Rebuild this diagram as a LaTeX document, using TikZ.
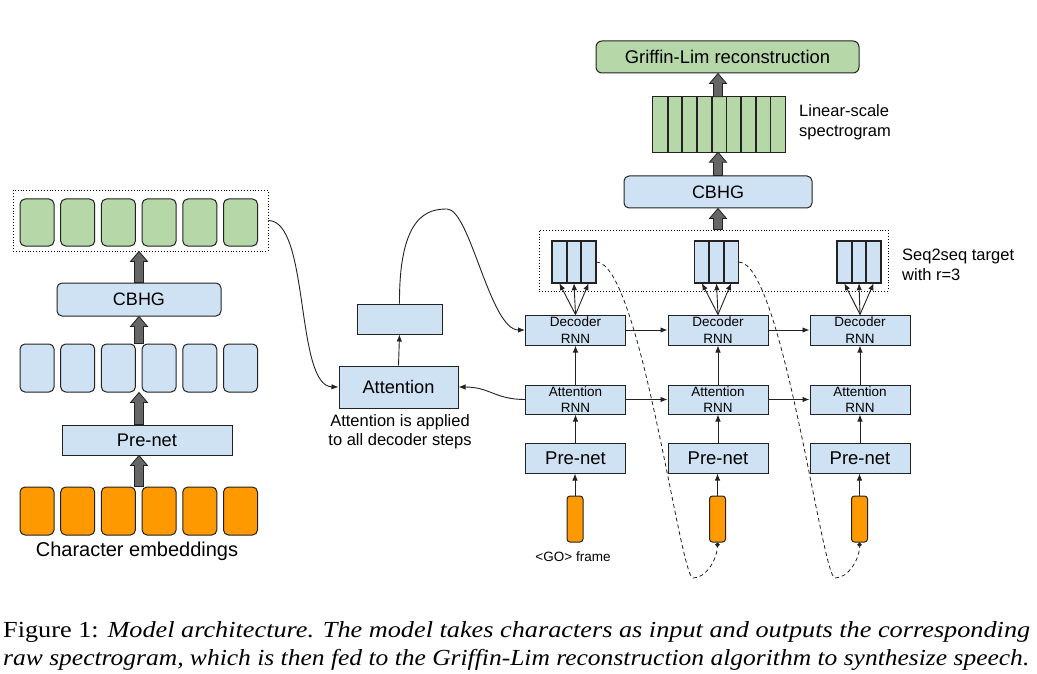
\documentclass[tikz,border=0pt]{standalone}
\usepackage{fontspec}
\setmainfont{Liberation Serif}
\newfontfamily\arial{Liberation Sans}
\usetikzlibrary{calc,arrows.meta}
\definecolor{lblue}{HTML}{CFE2F3}
\definecolor{lgreen}{HTML}{B6D7A8}
\definecolor{orng}{HTML}{FF9900}
\definecolor{agray}{HTML}{666666}
\definecolor{bd}{HTML}{222222}
\newcommand\fsz[1]{\fontsize{#1}{#1}\selectfont}
\newcommand\blockarrow[2]{\draw[blockarr] let \p1=(#1), \p2=(#2) in
  (\x1-4.5pt,\y1) -- (\x1-4.5pt,\y2-10pt) -- (\x1-8.5pt,\y2-10pt) -- (\x1,\y2)
  -- (\x1+8.5pt,\y2-10pt) -- (\x1+4.5pt,\y2-10pt) -- (\x1+4.5pt,\y1) -- cycle;}
\tikzset{
  box/.style={draw=bd, line width=1pt, inner sep=0pt, font=\arial},
  bluebox/.style={box, fill=lblue},
  greenbox/.style={box, fill=lgreen},
  orangebox/.style={box, fill=orng},
  rbox/.style={rounded corners=5pt},
  cellfill/.style={inner sep=0pt, draw=none},
  cellline/.style={draw=bd, line width=1.5pt},
  dotbox/.style={draw=black, dotted, line width=0.9pt, inner sep=0pt},
  conn/.style={-{Latex[length=7pt,width=5.5pt]}, line width=0.9pt, draw=bd},
  dashconn/.style={dashed, dash pattern=on 4pt off 3pt, line width=0.8pt, draw=bd, -{Circle[length=4.5pt]}},
  lbl/.style={font=\arial, inner sep=0pt},
  blockarr/.style={fill=agray, draw=bd, line width=0.8pt},
}
\begin{document}
\begin{tikzpicture}[x=1pt,y=-1pt]
\useasboundingbox (0,0) rectangle (1037,674);

% ---------------- left: encoder ----------------
\node[dotbox, minimum width=255, minimum height=61] (encout) at (140.5,220.5) {};
\foreach \i in {1,...,6} {
  \node[greenbox, rbox, minimum width=34, minimum height=47] (gr\i) at ({37+40.7*(\i-1)},222.5) {};
  \node[bluebox, rbox, minimum width=34, minimum height=48] (bl\i) at ({37+40.7*(\i-1)},368) {};
  \node[orangebox, rbox, minimum width=34, minimum height=48] (or\i) at ({37+40.7*(\i-1)},511) {};
}
\node[bluebox, rbox, minimum width=164, minimum height=33, font=\arial\fsz{18}] (cbhgL) at (139,299.5) {CBHG};
\node[bluebox, minimum width=170, minimum height=30, font=\arial\fsz{18.3}] (preL) at (147,440) {Pre-net};
\node[lbl, font=\arial\fsz{20}] (chartxt) at (137,551) {Character embeddings};

\blockarrow{cbhgL.north}{encout.south}
\blockarrow{cbhgL.south |- bl4.north}{cbhgL.south}
\blockarrow{cbhgL.south |- preL.north}{bl4.south}
\blockarrow{cbhgL.south |- or4.north}{preL.south}

% ---------------- middle: attention ----------------
\node[bluebox, minimum width=119, minimum height=42, font=\arial\fsz{18.2}] (attn) at (398.5,387) {Attention};
\node[bluebox, minimum width=85, minimum height=30] (ctx) at (399.5,319) {};
\node[lbl, font=\arial\fsz{16.5}, align=center] (attntxt) at (400,431.5) {Attention is applied\\[2.5pt]to all decoder steps};

% ---------------- right: decoder ----------------
\foreach \c/\cx in {1/575.5,2/718,3/860} {
  \node[bluebox, minimum width=100, minimum height=30, font=\arial\fsz{13.5}, align=center] (dec\c) at (\cx,330) {Decoder\\[3pt]RNN};
  \node[bluebox, minimum width=100, minimum height=29, font=\arial\fsz{13.5}, align=center] (att\c) at (\cx,399.5) {Attention\\[3pt]RNN};
  \node[bluebox, minimum width=100, minimum height=30, font=\arial\fsz{18.5}] (pre\c) at (\cx,458) {Pre-net};
  \node[orangebox, rounded corners=3pt, minimum width=16, minimum height=46] (fr\c) at (\cx-0.5,519) {};
}
\node[lbl, font=\arial\fsz{13.5}] (gotxt) at (573,557) {<GO> frame};

\node[dotbox, minimum width=349, minimum height=61] (tgtbox) at (713.5,260.5) {};
\foreach \c/\cx in {1/574,2/716.5,3/859} {
  \foreach \k in {1,2,3} {
    \node[cellfill, fill=lblue, minimum width=14.67, minimum height=42] (t\c\k) at ({\cx+(\k-2)*14.67},262) {};
  }
  \foreach \k in {1,2,3} {
    \draw[cellline] (t\c\k.north west) rectangle (t\c\k.south east);
  }
}
\node[lbl, font=\arial\fsz{16.5}, anchor=west, align=left] (seqtxt) at (902,265) {Seq2seq target\\[3.5pt]with r=3};

\node[bluebox, rbox, minimum width=188, minimum height=32, font=\arial\fsz{18}] (cbhgR) at (718,192) {CBHG};
\foreach \k in {1,...,9} {
  \node[cellfill, fill=lgreen, minimum width=14.67, minimum height=55] (sp\k) at ({653+14.67*(\k-0.5)},124.5) {};
}
\foreach \k in {1,...,9} {
  \draw[cellline, line width=1.3pt] (sp\k.north west) rectangle (sp\k.south east);
}
\node[lbl, font=\arial\fsz{16.5}, anchor=west, align=left] (spectxt) at (799,122) {Linear-scale\\[3.5pt]spectrogram};
\node[greenbox, rounded corners=6pt, minimum width=263, minimum height=32, font=\arial\fsz{18.4}] (griffin) at (727.5,57) {Griffin-Lim reconstruction};

\blockarrow{cbhgR.south |- tgtbox.north}{cbhgR.south}
\blockarrow{cbhgR.north}{sp5.south}
\blockarrow{cbhgR.north |- sp5.north}{griffin.south}

% ---------------- connectors ----------------
\foreach \c in {1,2,3} {
  \draw[conn] (fr\c.north) -- (pre\c.south -| fr\c.north);
  \draw[conn] (pre\c.north) -- (att\c.south);
  \draw[conn] (att\c.north) -- (dec\c.south);
  \foreach \k in {1,2,3} { \draw[conn] (dec\c.north) -- (t\c\k.south); }
}
\draw[conn] (dec1.east) -- (dec2.west);
\draw[conn] (dec2.east) -- (dec3.west);
\draw[conn] (att1.east) -- (att2.west);
\draw[conn] (att2.east) -- (att3.west);

\draw[conn] (encout.east) .. controls (310,221) and (295,386) .. (attn.west);
\draw[conn] (attn.north) -- (ctx.south);
\draw[conn] (ctx.north) .. controls (399,215) and (428,209) .. (447,209) .. controls (470,209) and (490,330) .. (dec1.west);
\draw[conn] (att1.west) .. controls (495,399.5) and (490,387) .. (attn.east);

\draw[dashconn] (t13.east) .. controls (640,262) and (680,578) .. (693,578) .. controls (706,578) and (717,560) .. (fr2.south);
\draw[dashconn] (t23.east) .. controls (782,262) and (822,578) .. (835,578) .. controls (848,578) and (859.5,560) .. (fr3.south);

% ---------------- caption ----------------
\node[anchor=base west, inner sep=0pt] (cap1) at (3,637) {\resizebox{1027pt}{\height}{\fsz{23}Figure 1: \textit{Model architecture. The model takes characters as input and outputs the corresponding}}};
\node[anchor=base west, inner sep=0pt] (cap2) at (3,665) {\resizebox{1026pt}{\height}{\fsz{23}\textit{raw spectrogram, which is then fed to the Griffin-Lim reconstruction algorithm to synthesize speech.}}};
\end{tikzpicture}
\end{document}
